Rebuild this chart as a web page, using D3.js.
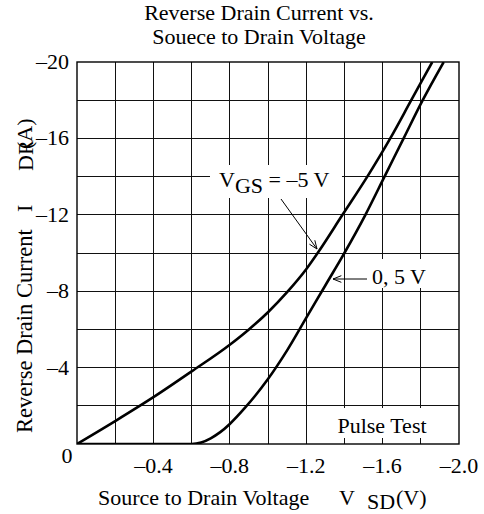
<!DOCTYPE html>
<html><head><meta charset="utf-8">
<script src="https://cdn.jsdelivr.net/npm/d3@7"></script>
<style>
html,body{margin:0;padding:0;background:#fff;}
svg text{font-family:"Liberation Serif","Times New Roman",serif;fill:#000;}
</style></head>
<body><svg id="c" width="484" height="514"></svg>
<script>
// Data (V_SD in volts, I_DR in amperes)
const vsdVgsMinus5 = [0, -0.2, -0.4, -0.6, -0.8, -0.9, -1.0, -1.1, -1.2, -1.26, -1.39, -1.52, -1.64, -1.75, -1.86];
const idrVgsMinus5 = [0, -1.2, -2.45, -3.8, -5.2, -6.0, -6.9, -7.95, -9.15, -10, -12, -14, -16, -18, -20];
const vsdVgs0_5 = [0, -0.6, -0.65, -0.7, -0.75, -0.8, -0.88, -1.0, -1.1, -1.2, -1.3, -1.4, -1.51, -1.61, -1.71, -1.81, -1.92];
const idrVgs0_5 = [0, 0, -0.08, -0.3, -0.62, -1.05, -1.9, -3.4, -4.9, -6.6, -8.3, -10, -12, -14, -16, -18, -20];
const xTickLabels = ["–0.4", "–0.8", "–1.2", "–1.6", "–2.0"];
const xTickValues = [-0.4, -0.8, -1.2, -1.6, -2.0];
const yTickLabels = ["–4", "–8", "–12", "–16", "–20"];
const yTickValues = [-4, -8, -12, -16, -20];
const xGrid = d3.range(1, 10).map(i => -0.2 * i);
const yGrid = d3.range(1, 10).map(i => -2 * i);

const L = 77, R = 459, T = 62, B = 444;
const svg = d3.select("#c");
const x = d3.scaleLinear().domain([0, -2.0]).range([L, R]);
const y = d3.scaleLinear().domain([0, -20]).range([B, T]);

// grid
const g = svg.append("g").attr("stroke", "#111").attr("stroke-width", 1).attr("shape-rendering", "crispEdges");
g.selectAll(".vx").data(xGrid).join("line")
  .attr("x1", d => x(d)).attr("x2", d => x(d)).attr("y1", T).attr("y2", B);
g.selectAll(".hy").data(yGrid).join("line")
  .attr("y1", d => y(d)).attr("y2", d => y(d)).attr("x1", L).attr("x2", R);

// white label boxes over grid
svg.append("rect").attr("x", 210).attr("y", 165).attr("width", 132).attr("height", 33).attr("fill", "#fff");
svg.append("rect").attr("x", 366).attr("y", 259).attr("width", 70).attr("height", 29).attr("fill", "#fff");
svg.append("rect").attr("x", 309).attr("y", 408).attr("width", 149).attr("height", 30).attr("fill", "#fff");

// frame
svg.append("rect").attr("x", L).attr("y", T).attr("width", R - L).attr("height", B - T)
  .attr("fill", "none").attr("stroke", "#000").attr("stroke-width", 1.4);

// curves
svg.append("clipPath").attr("id", "clip").append("rect")
  .attr("x", L).attr("y", T).attr("width", R - L).attr("height", B - T);
const line = d3.line().x(d => x(d[0])).y(d => y(d[1])).curve(d3.curveMonotoneX);
const c = svg.append("g").attr("clip-path", "url(#clip)");
c.append("path").datum(d3.zip(vsdVgsMinus5, idrVgsMinus5)).attr("d", line)
  .attr("fill", "none").attr("stroke", "#000").attr("stroke-width", 2.6);
c.append("path").datum(d3.zip(vsdVgs0_5, idrVgs0_5)).attr("d", line)
  .attr("fill", "none").attr("stroke", "#000").attr("stroke-width", 2.6);

// tick labels
const fs = 22;
svg.selectAll(".xt").data(xTickValues).join("text")
  .attr("x", d => x(d)).attr("y", 473).attr("text-anchor", "middle")
  .attr("font-size", fs).text((d, i) => xTickLabels[i]);
svg.selectAll(".yt").data(yTickValues).join("text")
  .attr("x", 69).attr("y", d => y(d) + 7).attr("text-anchor", "end")
  .attr("font-size", fs).text((d, i) => yTickLabels[i]);
svg.append("text").attr("x", 67).attr("y", 463).attr("text-anchor", "middle").attr("font-size", fs).text("0");

// title
svg.append("text").attr("x", 259).attr("y", 20).attr("text-anchor", "middle").attr("font-size", fs).text("Reverse Drain Current vs.");
svg.append("text").attr("x", 259).attr("y", 44).attr("text-anchor", "middle").attr("font-size", fs).text("Souece to Drain Voltage");

// x title
svg.append("text").attr("x", 98).attr("y", 505).attr("font-size", fs).text("Source to Drain Voltage");
svg.append("text").attr("x", 339).attr("y", 505).attr("font-size", fs).text("V");
svg.append("text").attr("x", 367).attr("y", 509).attr("font-size", fs).text("SD");
svg.append("text").attr("x", 396).attr("y", 505).attr("font-size", fs).text("(V)");

// y title (rotated)
const yt = svg.append("g").attr("transform", "translate(32,0) rotate(-90)");
yt.append("text").attr("x", -433).attr("y", 0).attr("font-size", 22.5).text("Reverse Drain Current");
yt.append("text").attr("x", -212).attr("y", 0).attr("font-size", fs).text("I");
yt.append("text").attr("x", -171).attr("y", 1).attr("font-size", fs).text("DR");
yt.append("text").attr("x", -149).attr("y", 0).attr("font-size", fs).text("(A)");

// annotations
const vg = svg.append("text").attr("x", 219).attr("y", 187).attr("font-size", fs);
vg.append("tspan").text("V");
vg.append("tspan").attr("dy", 6).text("GS");
vg.append("tspan").attr("dy", -6).text(" = –5 V");
svg.append("text").attr("x", 372).attr("y", 284).attr("font-size", fs).text("0, 5 V");
svg.append("text").attr("x", 382).attr("y", 433).attr("text-anchor", "middle").attr("font-size", fs).text("Pulse Test");

// arrows
function arrow(x1, y1, x2, y2) {
  svg.append("line").attr("x1", x1).attr("y1", y1).attr("x2", x2).attr("y2", y2)
    .attr("stroke", "#000").attr("stroke-width", 1);
  const a = Math.atan2(y2 - y1, x2 - x1), len = 9, sp = 0.38;
  svg.append("path")
    .attr("d", `M${x2 - len * Math.cos(a - sp)},${y2 - len * Math.sin(a - sp)}L${x2},${y2}L${x2 - len * Math.cos(a + sp)},${y2 - len * Math.sin(a + sp)}`)
    .attr("fill", "none").attr("stroke", "#000").attr("stroke-width", 1);
}
arrow(281, 199, 317, 249);
arrow(367, 279, 333, 279);
</script></body></html>
